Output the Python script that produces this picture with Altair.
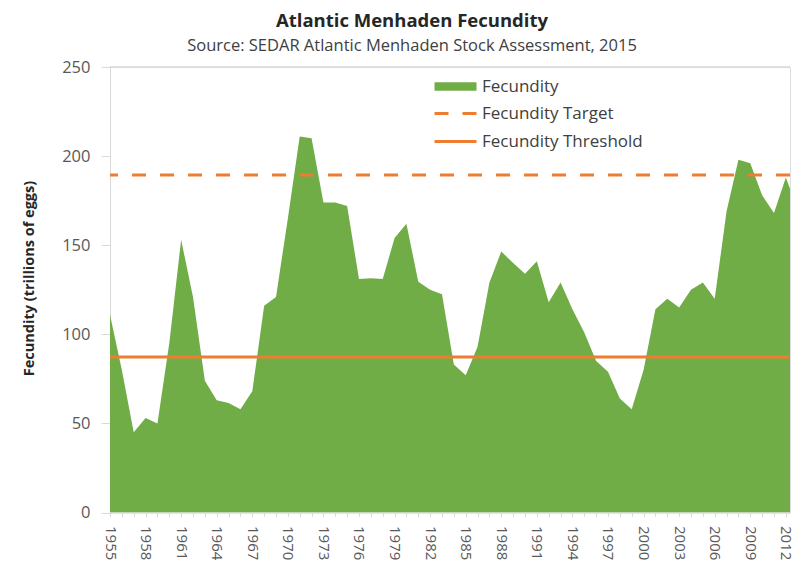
import altair as alt
import pandas as pd

years = list(range(1955, 2014))
fecundity = [111, 80, 45, 53, 50, 95, 153, 121, 74, 63,
             61.5, 58, 68, 116, 121, 165, 211, 210, 174, 174,
             172, 131, 131.5, 131, 154, 162, 129.5, 125, 122.5, 83,
             77, 93, 129, 146.5, 140, 134, 141, 118, 129, 114,
             101, 85, 79, 64, 58, 80, 114, 120, 115, 125,
             129, 120, 169, 198, 196, 178, 168, 188, 170]
ref_names = ["Fecundity Target", "Fecundity Threshold"]
ref_values = [189.4, 87.3]
area_name = "Fecundity"

GREEN = "#70ad47"
ORANGE = "#ed7d31"
FONT = "Open Sans"
PLOT_W = 680

df = pd.DataFrame({"year": years, "fec": fecundity, "area_series": area_name})
ref_df = pd.DataFrame({"line_series": ref_names, "val": ref_values})

x_scale = alt.Scale(domain=[1955, 2012.35], nice=False, zero=False)
y_scale = alt.Scale(domain=[0, 250], nice=False)

x_axis = alt.Axis(
    title=None,
    values=list(range(1955, 2013)),
    labelExpr="(datum.value - 1955) % 3 == 0 ? toString(datum.value) : ''",
    labelAngle=90,
    labelFont=FONT,
    labelFontSize=15,
    labelColor="#595959",
    labelPadding=9,
    labelOverlap=False,
    labelFlush=False,
    tickSize=4,
    tickColor="#d9d9d9",
    domainColor="#d9d9d9",
    grid=False,
)
y_axis = alt.Axis(
    title="Fecundity (trillions of eggs)",
    values=[0, 50, 100, 150, 200, 250],
    labelFont=FONT,
    labelFontSize=16.5,
    labelColor="#595959",
    labelPadding=11,
    tickSize=9,
    tickColor="#d9d9d9",
    domainColor="#d9d9d9",
    grid=False,
    titleFont=FONT,
    titleFontSize=14.5,
    titleFontWeight="bold",
    titleColor="#262626",
    titleAngle=270,
    titleAlign="center",
    titleBaseline="middle",
    titleX=-81,
    titleY=211,
)

area = alt.Chart(df).mark_area(clip=True, opacity=1).encode(
    x=alt.X("year:Q", scale=x_scale, axis=x_axis),
    y=alt.Y("fec:Q", scale=y_scale, axis=y_axis),
    fill=alt.Fill(
        "area_series:N",
        scale=alt.Scale(domain=[area_name], range=[GREEN]),
        legend=alt.Legend(
            title=None,
            orient="none",
            legendX=337,
            legendY=11,
            padding=0,
            symbolType="M-3,-0.6L3,-0.6L3,0.6L-3,0.6Z",
            symbolSize=196,
            symbolStrokeWidth=0,
            symbolOpacity=1,
            labelFont=FONT,
            labelFontSize=17,
            labelColor="#404040",
            labelOffset=18,
            labelLimit=400,
        ),
    ),
)

rules = alt.Chart(ref_df).mark_rule(color=ORANGE, strokeWidth=3).encode(
    y=alt.Y("val:Q", scale=y_scale),
    strokeDash=alt.StrokeDash(
        "line_series:N",
        scale=alt.Scale(domain=ref_names, range=[[14, 14], [1, 0]]),
        legend=alt.Legend(
            title=None,
            orient="none",
            legendX=337,
            legendY=38,
            padding=0,
            symbolType="M-3,0L3,0",
            symbolSize=196,
            symbolStrokeWidth=3,
            symbolStrokeColor=ORANGE,
            symbolFillColor="transparent",
            labelFont=FONT,
            labelFontSize=17,
            labelColor="#404040",
            labelOffset=18,
            labelLimit=400,
            rowPadding=10,
        ),
    ),
)

top_border = alt.Chart(ref_df).mark_rule(color="#d9d9d9", strokeWidth=1).encode(
    y=alt.value(0), x=alt.value(0), x2=alt.value(PLOT_W)
)

chart = alt.layer(top_border, area, rules).properties(
    width=PLOT_W,
    height=445.5,
    padding={"left": 102, "top": 59, "right": 2, "bottom": 48},
    autosize=alt.AutoSizeParams(type="none"),
    title=alt.TitleParams(
        text="Atlantic Menhaden Fecundity",
        subtitle="Source: SEDAR Atlantic Menhaden Stock Assessment, 2015",
        font=FONT,
        fontSize=18.5,
        fontWeight="bold",
        color="#262626",
        subtitleFont=FONT,
        subtitleFontSize=16.5,
        subtitleColor="#404040",
        subtitlePadding=7,
        anchor="middle",
        dx=-38,
        offset=5,
    ),
).configure_view(stroke=None).configure(background="white")

chart.save("out.html", embed_options={"renderer": "svg", "actions": False})
